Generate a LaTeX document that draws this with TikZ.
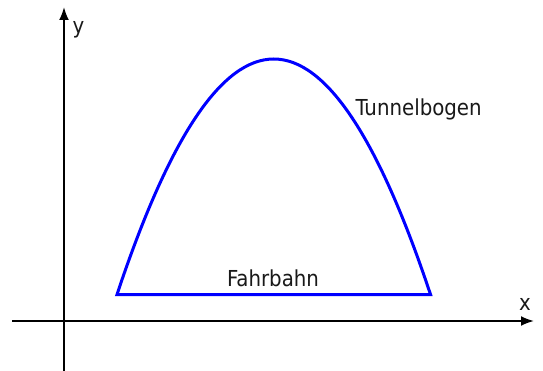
\documentclass[tikz,border=0pt]{standalone}
\usepackage{fontspec}
\setmainfont{DejaVu Sans Condensed}
\usetikzlibrary{arrows.meta}
\begin{document}
\begin{tikzpicture}[x=1pt,y=-1pt,
  axis/.style={line width=2pt,-{Latex[length=13pt,width=10pt]}},
  bogen/.style={line width=3pt,blue,line join=miter},
  lbl/.style={inner sep=0pt,font=\fontsize{22}{26}\selectfont,text=black!90}]
\useasboundingbox (0,0) rectangle (543,371);
% axes
\coordinate (yb) at (64,371);
\coordinate (yt) at (64,7);
\coordinate (xl) at (12,321);
\coordinate (xr) at (534,321);
\draw[axis] (yb) -- (yt);
\draw[axis] (xl) -- (xr);
% tunnel
\coordinate (L) at (117,294.5);
\coordinate (R) at (430.5,294.5);
\draw[bogen] (L) .. controls (221.5,-19.5) and (326,-19.5) .. (R) -- cycle;
% labels
\node[lbl,anchor=base] (ylab) at (78.5,34) {y};
\node[lbl,anchor=base] (xlab) at (525,310) {x};
\node[lbl,anchor=base west] (tb) at (355.5,116) {Tunnelbogen};
\node[lbl,anchor=base] (fb) at (273,287) {Fahrbahn};
\end{tikzpicture}
\end{document}
